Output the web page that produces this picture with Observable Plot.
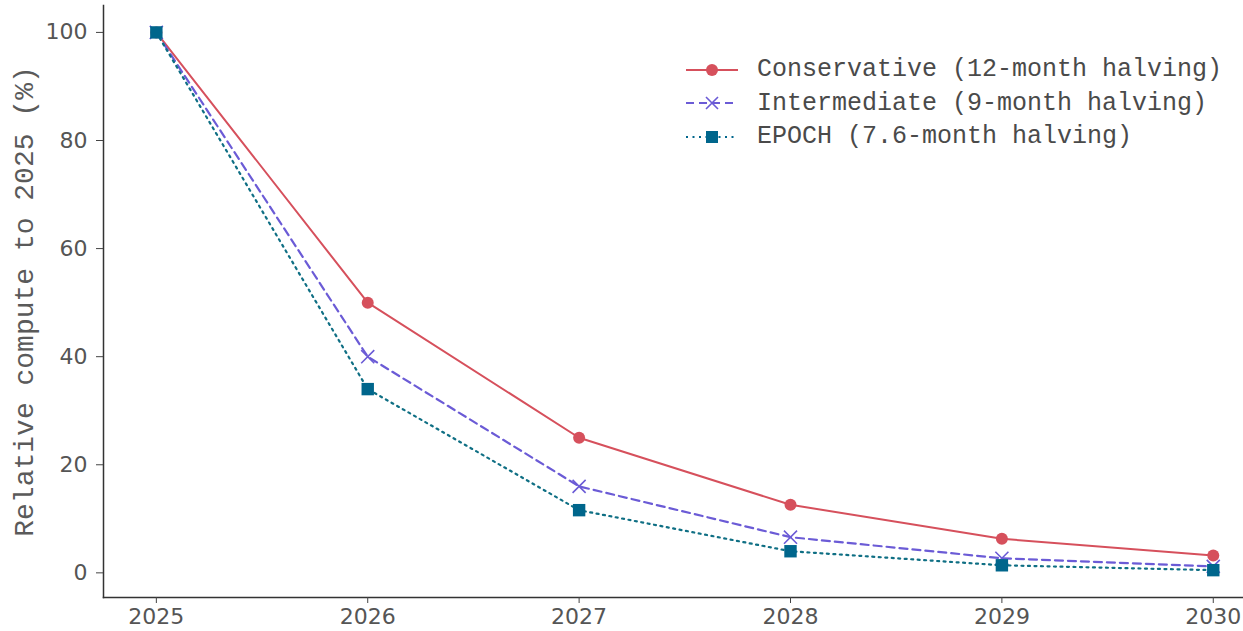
<!DOCTYPE html>
<html>
<head>
<meta charset="utf-8">
<script src="https://cdn.jsdelivr.net/npm/d3@7"></script>
<script src="https://cdn.jsdelivr.net/npm/@observablehq/plot@0.6"></script>
<style>
  html, body { margin: 0; padding: 0; background: #fff; }
  #wrap { position: relative; width: 1243px; height: 631px; overflow: hidden; }
  #chart svg { font-family: "DejaVu Sans", sans-serif; font-size: 22px; }
  #chart svg [aria-label="y-axis label"] text { font-family: "Courier New", "Liberation Mono", monospace; font-size: 28px; fill: #5a5a5a; }
  #legend { position: absolute; left: 684px; top: 53px; font-family: "Courier New", "Liberation Mono", monospace; font-size: 25px; color: #4a4a4a; }
  #legend .row { display: flex; align-items: center; height: 33.5px; }
  #legend svg { margin-right: 17px; }
</style>
</head>
<body>
<div id="wrap">
  <div id="chart"></div>
  <div id="legend"></div>
</div>
<script>
const years = [2025, 2026, 2027, 2028, 2029, 2030];
const conservative = [100, 50, 25, 12.6, 6.3, 3.2];
const intermediate = [100, 40, 16, 6.6, 2.7, 1.2];
const epoch = [100, 34, 11.6, 4.0, 1.4, 0.5];
const seriesNames = ["Conservative (12-month halving)", "Intermediate (9-month halving)", "EPOCH (7.6-month halving)"];
const colors = ["#d6505c", "#6b5bd6", "#00668c"];
const yTicks = [0, 20, 40, 60, 80, 100];
const xDomain = [2024.75, 2030.143];
const yDomain = [-4.56, 104.98];

const rows = (vals) => years.map((year, i) => ({year, value: vals[i]}));
const cons = rows(conservative), inter = rows(intermediate), ep = rows(epoch);

const chart = Plot.plot({
  width: 1243,
  height: 631,
  marginLeft: 103,
  marginRight: 0,
  marginTop: 5,
  marginBottom: 34,
  x: {domain: xDomain},
  y: {domain: yDomain},
  marks: [
    Plot.frame({anchor: "left", stroke: "#333", strokeWidth: 1.5}),
    Plot.frame({anchor: "bottom", stroke: "#333", strokeWidth: 1.5}),
    Plot.axisX({ticks: years, tickFormat: d => String(d), tickSize: 6, tickPadding: 5, stroke: "#444", fill: "#555", label: null}),
    Plot.axisY({ticks: yTicks, tickSize: 7, tickPadding: 9, stroke: "#444", fill: "#555",
      label: "Relative compute to 2025 (%)", labelAnchor: "center", labelArrow: "none", labelOffset: 90}),
    Plot.line(cons, {x: "year", y: "value", stroke: colors[0], strokeWidth: 2}),
    Plot.dot(cons, {x: "year", y: "value", r: 6, fill: colors[0], symbol: "circle"}),
    Plot.line(inter, {x: "year", y: "value", stroke: colors[1], strokeWidth: 2.2, strokeDasharray: "8,5"}),
    Plot.dot(inter, {x: "year", y: "value", r: 6, stroke: colors[1], strokeWidth: 1.6, symbol: "times"}),
    Plot.line(ep, {x: "year", y: "value", stroke: "#0f6f84", strokeWidth: 2.2, strokeDasharray: "2,4.5"}),
    Plot.dot(ep, {x: "year", y: "value", r: 7, fill: colors[2], symbol: "square"})
  ]
});
document.getElementById("chart").append(chart);

// Legend (HTML overlay)
const legend = document.getElementById("legend");
const dashes = [null, "8,5", "2,4.5"];
seriesNames.forEach((name, i) => {
  const row = document.createElement("div");
  row.className = "row";
  let marker;
  if (i === 0) marker = `<circle cx="28" cy="12" r="6" fill="${colors[0]}"/>`;
  else if (i === 1) marker = `<path d="M22,6L34,18M22,18L34,6" stroke="${colors[1]}" stroke-width="1.6"/>`;
  else marker = `<rect x="22" y="6" width="12" height="12" fill="${colors[2]}"/>`;
  row.innerHTML = `<svg width="56" height="24"><line x1="2" x2="54" y1="12" y2="12" stroke="${colors[i]}" stroke-width="2" ${dashes[i] ? `stroke-dasharray="${dashes[i]}"` : ""}/>${marker}</svg><span>${name}</span>`;
  legend.append(row);
});
</script>
</body>
</html>
